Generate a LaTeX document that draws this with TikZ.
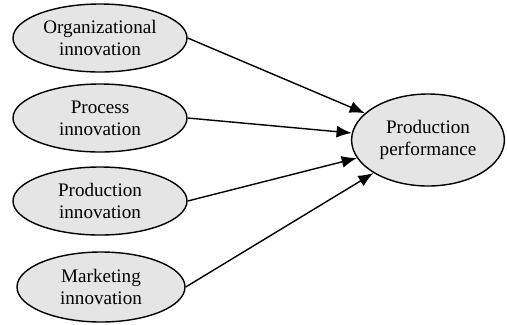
\documentclass[tikz,border=0pt]{standalone}
\usepackage{fontspec}
\setmainfont{Liberation Serif}
\usepackage{tikz}
\usetikzlibrary{shapes.geometric,arrows.meta}
\tikzset{
  factor/.style={ellipse,draw,line width=1pt,fill=black!10,align=center,inner sep=0pt,
    minimum width=4.35cm,minimum height=1.7cm,font=\fontsize{13.6}{15.8}\selectfont},
  link/.style={line width=1pt,-{Latex[length=3.8mm,width=3mm]}}
}

\begin{document}
\begin{tikzpicture}
\useasboundingbox (0,0) rectangle (12.675,-8.1);

\node[factor] (org) at (2.5,-0.95) {Organizational\\innovation};
\node[factor] (proc) at (2.5,-2.95) {Process\\innovation};
\node[factor] (prod) at (2.5,-5.025) {Production\\innovation};
\node[factor,minimum width=4.2cm,minimum height=1.75cm] (mark) at (2.525,-7.175) {Marketing\\innovation};

\node[factor,minimum width=3.82cm,minimum height=2.3cm] (perf) at (10.7,-3.5) {Production\\performance};

\draw[link] (org.east) -- (perf);
\draw[link] (proc.east) -- (perf);
\draw[link] (prod.east) -- (perf);
\draw[link] (mark.east) -- (perf);

\end{tikzpicture}
\end{document}
